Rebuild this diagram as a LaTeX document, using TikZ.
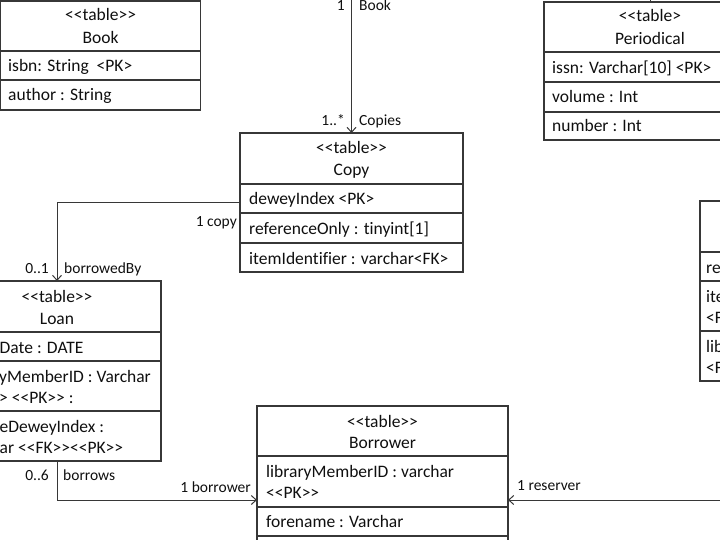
\documentclass[tikz,border=0pt]{standalone}
\usepackage{fontspec}
\setmainfont{Carlito}[Ligatures={TeXOff,NoCommon}]
\usetikzlibrary{arrows.meta}
\definecolor{umlline}{RGB}{55,55,55}
\definecolor{umltext}{RGB}{15,15,15}
\tikzset{
  tbl/.style={
    draw=umlline,
    line width=1.2pt,
    anchor=north west,
    inner sep=0pt,
    outer sep=0pt
  },
  divider/.style={draw=umlline, line width=1.1pt},
  head/.style={anchor=base, inner sep=0pt, text=umltext,
    font=\fontsize{17.5}{21}\selectfont},
  cell/.style={anchor=base west, inner sep=0pt, text=umltext,
    font=\fontsize{17.5}{21}\selectfont},
  lbl/.style={inner sep=0pt, text=umltext,
    font=\fontsize{15.5}{18}\selectfont},
  assoc/.style={draw=umlline, line width=1pt,
    -{Straight Barb[length=5pt,width=9pt]}},
  stub/.style={draw=umlline, line width=1pt}
}

\begin{document}
\begin{tikzpicture}[x=1pt,y=-1pt]
  \useasboundingbox (0,0) rectangle (720,540);
  \clip (0,0) rectangle (720,540);

  % Book
  \node[tbl, minimum width=200pt, minimum height=109pt] (book) at (0.6,1) {};
  \node[head] (bookst) at (100.6,21) {<<table>>};
  \node[head] (bookname) at (100.6,43.5) {Book};
  \foreach \y in {51,80} \draw[divider] (0.6,\y) -- (200.6,\y);
  \node[cell] (bookisbn) at (8,72) {isbn: String~ <PK>};
  \node[cell] (bookauthor) at (8,101) {author : String};

  % Periodical
  \node[tbl, minimum width=212pt, minimum height=138pt] (periodical) at (544,2) {};
  \node[head] (perst) at (650,22) {<<table>};
  \node[head] (pername) at (650,44.5) {Periodical};
  \foreach \y in {52,82,112} \draw[divider] (544,\y) -- (756,\y);
  \node[cell] (perissn) at (552,74) {issn: Varchar[10] <PK>};
  \node[cell] (pervolume) at (552,103) {volume : Int};
  \node[cell] (pernumber) at (552,132) {number : Int};

  % Copy
  \node[tbl, minimum width=223pt, minimum height=139pt] (copy) at (240,133) {};
  \node[head] (copyst) at (351.5,154) {<<table>>};
  \node[head] (copyname) at (351.5,176) {Copy};
  \foreach \y in {184,213,243} \draw[divider] (240,\y) -- (463,\y);
  \node[cell] (copydewey) at (249,205) {deweyIndex <PK>};
  \node[cell] (copyref) at (249,234) {referenceOnly : tinyint[1]};
  \node[cell] (copyitem) at (249,264) {itemIdentifier : varchar<FK>};

  % Loan
  \node[tbl, minimum width=208pt, minimum height=180pt] (loan) at (-47,281) {};
  \node[head] (loanst) at (57,302) {<<table>>};
  \node[head] (loanname) at (57,324) {Loan};
  \foreach \y in {332,361,411} \draw[divider] (-47,\y) -- (161,\y);
  \node[cell] (loandate) at (-0.5,353) {Date : DATE};
  \node[cell] (loanmember) at (-1,382) {yMemberID : Varchar};
  \node[cell] (loanmemberkey) at (-1,403.5) {> <<PK>> :};
  \node[cell] (loandewey) at (-0.5,432) {eDeweyIndex :};
  \node[cell] (loandeweykey) at (-0.5,453.5) {ar <<FK>><<PK>>};

  % Borrower
  \node[tbl, minimum width=251pt, minimum height=188pt] (borrower) at (257,406) {};
  \node[head] (borst) at (382.5,427) {<<table>>};
  \node[head] (borname) at (382.5,448) {Borrower};
  \foreach \y in {456,507,536} \draw[divider] (257,\y) -- (508,\y);
  \node[cell] (bormember) at (266,477) {libraryMemberID : varchar};
  \node[cell] (bormemberkey) at (266,498.5) {<<PK>>};
  \node[cell] (borforename) at (266,527) {forename : Varchar};

  % Reservation (cut at the right edge)
  \node[tbl, minimum width=100pt, minimum height=180pt] (reservation) at (700,201) {};
  \foreach \y in {252,281,331} \draw[divider] (700,\y) -- (800,\y);
  \node[cell] (resre) at (706,273) {re};
  \node[cell] (resitem) at (706,302) {ite};
  \node[cell] (resitemkey) at (706,323.5) {<F};
  \node[cell] (reslib) at (706,352) {lib};
  \node[cell] (reslibkey) at (706,373.5) {<F};

  % connectors
  \coordinate (bookUp) at (100.6,-10);
  \coordinate (perUp) at (650,-10);
  \coordinate (bookAbove) at (351.5,-10);
  \coordinate (resvIn) at (730,500);
  \draw[stub] (book.north) -- (bookUp);
  \draw[stub] (periodical.north) -- (perUp);
  \draw[assoc] (bookAbove) -- (copy.north);
  \draw[assoc] (copy.west) -| (loan.north);
  \draw[assoc] (loan.south) |- (borrower.west);
  \draw[assoc] (resvIn) -- (borrower.east);

  % multiplicities and roles
  \node[lbl, anchor=base east] (bookone) at (345,10.5) {1};
  \node[lbl, anchor=base west] (bookrole) at (359,10.5) {Book};
  \node[lbl, anchor=base east] (copymany) at (345,126) {1..*};
  \node[lbl, anchor=base west] (copyrole) at (359,126) {Copies};
  \node[lbl, anchor=base east] (copyone) at (237,226) {1 copy};
  \node[lbl, anchor=base east] (loanopt) at (49,273) {0..1};
  \node[lbl, anchor=base west] (loanrole) at (64,273) {borrowedBy};
  \node[lbl, anchor=base east] (loanmany) at (49,480) {0..6};
  \node[lbl, anchor=base west] (borrowsrole) at (63,480) {borrows};
  \node[lbl, anchor=base east] (borrowerone) at (251,492) {1 borrower};
  \node[lbl, anchor=base west] (reserverone) at (517,490) {1 reserver};
\end{tikzpicture}
\end{document}
